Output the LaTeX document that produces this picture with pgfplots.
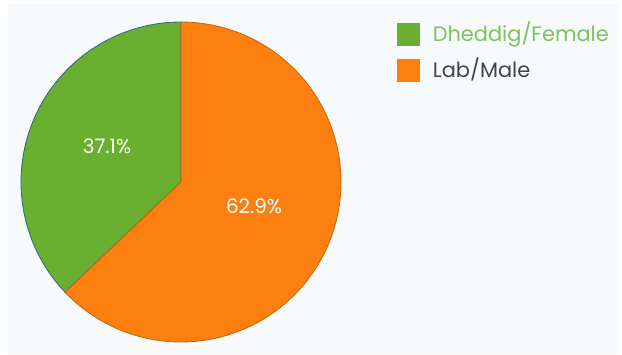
\documentclass[border=0pt]{standalone}
\usepackage{pgfplots}
\pgfplotsset{compat=1.18}
\usepackage{fontspec}
\setmainfont{Poppins}
\definecolor{bgpanel}{HTML}{F7FAFC}
\definecolor{fem}{HTML}{6AAF2F}
\definecolor{male}{HTML}{FD7F0F}
\definecolor{femtext}{HTML}{7DC35A}
\definecolor{maletext}{HTML}{444444}
\definecolor{femedge}{HTML}{2F6390}
\definecolor{maleedge}{HTML}{C8640A}
\begin{document}
\begin{tikzpicture}
\pgfmathsetmacro{\vF}{37.1}
\pgfmathsetmacro{\vM}{62.9}
\pgfmathsetmacro{\aS}{90}
\pgfmathsetmacro{\aF}{90+3.6*\vF}
\pgfmathsetmacro{\aM}{\aF+3.6*\vM}
\begin{axis}[x=1bp,y=1bp,xmin=0,xmax=622,ymin=0,ymax=354,hide axis,
  legend style={at={(axis cs:397,332)},anchor=north west,draw=none,fill=none,
    inner sep=0pt,outer sep=0pt,row sep=12bp,
    nodes={inner sep=0pt,outer sep=0pt},
    cells={anchor=base west},
    font=\fontsize{21}{23}\selectfont,
    /tikz/every odd column/.append style={column sep=13bp}}]
\addplot[fill=white,draw=none,forget plot] coordinates {(0,0)(622,0)(622,354)(0,354)} -- cycle;
\addplot[fill=bgpanel,draw=none,forget plot] coordinates {(8,0)(618,0)(618,350)(8,350)} -- cycle;
\addplot[fill=fem,draw=femedge,line width=0.8bp,domain=\aS:\aF,samples=120,variable=\t,
  legend image code/.code={\fill[fem] (0bp,-4bp) rectangle (22bp,18bp);}]
  ({181+160*cos(t)},{172+160*sin(t)}) -- (181,172) -- cycle;
\addlegendentry{\textcolor{femtext}{Dheddig/Female}}
\addplot[fill=male,draw=maleedge,line width=0.8bp,domain=\aF:\aM,samples=200,variable=\t,
  legend image code/.code={\fill[male] (0bp,-4bp) rectangle (22bp,18bp);}]
  ({181+160*cos(t)},{172+160*sin(t)}) -- (181,172) -- cycle;
\addlegendentry{\textcolor{maletext}{Lab/Male}}
\node[white,font=\fontsize{20}{22}\selectfont] at (axis cs:107,208) {37.1\%};
\node[white,font=\fontsize{20}{22}\selectfont] at (axis cs:254,148) {62.9\%};
\end{axis}
\end{tikzpicture}
\end{document}
